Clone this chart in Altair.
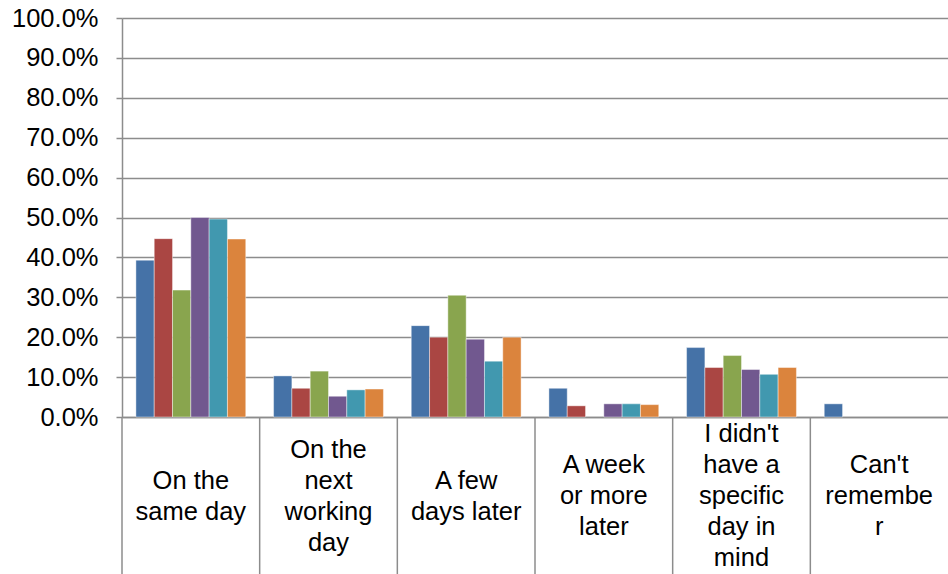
import altair as alt
import pandas as pd

# Response categories (x axis) and how each label wraps onto lines
categories = [
    "On the same day",
    "On the next working day",
    "A few days later",
    "A week or more later",
    "I didn't have a specific day in mind",
    "Can't remember",
]
wrapped = [
    ["On the", "same day"],
    ["On the", "next", "working", "day"],
    ["A few", "days later"],
    ["A week", "or more", "later"],
    ["I didn't", "have a", "specific", "day in", "mind"],
    ["Can't", "remembe", "r"],
]

# Six groups, one value (percent) per category
series = ["Group 1", "Group 2", "Group 3", "Group 4", "Group 5", "Group 6"]
group1 = [39.3, 10.3, 22.9, 7.2, 17.4, 3.3]
group2 = [44.7, 7.2, 20.0, 2.8, 12.4, 0.0]
group3 = [31.8, 11.5, 30.5, 0.0, 15.4, 0.0]
group4 = [50.0, 5.2, 19.5, 3.3, 11.9, 0.0]
group5 = [49.6, 6.8, 14.0, 3.3, 10.7, 0.0]
group6 = [44.6, 7.0, 20.0, 3.1, 12.4, 0.0]

colors = ["#4572A7", "#AA4643", "#89A54E", "#71588F", "#4198AF", "#DB843D"]
ticks = [i / 10 for i in range(11)]

rows = []
for name, vals in zip(series, [group1, group2, group3, group4, group5, group6]):
    for cat, v in zip(categories, vals):
        rows.append({"category": cat, "series": name, "value": v / 100})
df = pd.DataFrame(rows)

# One row per label line; "slot" is the line's place relative to the
# middle of its label block, so every block is centred in its cell.
label_rows = []
for cat, lines in zip(categories, wrapped):
    n = len(lines)
    for i, line in enumerate(lines):
        label_rows.append({"category": cat, "text": line, "slot": i - (n - 1) / 2})
labels_df = pd.DataFrame(label_rows)

FONT = "Liberation Sans"
FONT_SIZE = 25.5
GRAY = "#8c8c8c"
W, H, LABEL_BOX = 826, 399, 157
LINE = 31
MAX_HALF = (max(len(w) for w in wrapped) - 1) / 2
CELL_MID = H + 79

x_enc = alt.X(
    "category:N",
    sort=categories,
    scale=alt.Scale(paddingInner=0, paddingOuter=0),
    axis=alt.Axis(
        title=None,
        labels=False,
        ticks=False,
        grid=False,
        domainColor=GRAY,
        domainWidth=1.5,
    ),
)

bars = (
    alt.Chart(df)
    .transform_filter("datum.value > 0")
    .mark_bar(stroke="white", strokeWidth=0.6, strokeOpacity=0.7)
    .encode(
        x=x_enc,
        xOffset=alt.XOffset(
            "series:N",
            sort=series,
            scale=alt.Scale(paddingInner=0, paddingOuter=0.76),
        ),
        y=alt.Y(
            "value:Q",
            scale=alt.Scale(domain=[0, 1], nice=False),
            axis=alt.Axis(
                title=None,
                format=".1%",
                values=ticks,
                grid=True,
                gridColor=GRAY,
                gridWidth=1.5,
                domainColor=GRAY,
                domainWidth=1.5,
                tickColor=GRAY,
                tickWidth=1.5,
                tickSize=6,
                labelPadding=18,
                labelFont=FONT,
                labelFontSize=FONT_SIZE,
                labelColor="black",
            ),
        ),
        color=alt.Color(
            "series:N",
            sort=series,
            scale=alt.Scale(domain=series, range=colors),
            legend=None,
        ),
    )
)

# Vertical separators between the category label cells
separators = (
    alt.Chart(pd.DataFrame({"category": categories}))
    .mark_rule(color=GRAY, strokeWidth=1.5)
    .encode(
        x=alt.X("category:N", sort=categories, bandPosition=0),
        y=alt.value(H),
        y2=alt.value(H + LABEL_BOX),
    )
)

# Category labels, one text mark per line, centred in each cell
cat_labels = (
    alt.Chart(labels_df)
    .mark_text(font=FONT, fontSize=FONT_SIZE, color="black",
               align="center", baseline="middle")
    .encode(
        x=alt.X("category:N", sort=categories, bandPosition=0.5),
        y=alt.Y(
            "slot:Q",
            scale=alt.Scale(
                domain=[-MAX_HALF, MAX_HALF],
                range=[CELL_MID - MAX_HALF * LINE, CELL_MID + MAX_HALF * LINE],
                nice=False,
                zero=False,
            ),
            axis=None,
        ),
        text="text:N",
    )
)

chart = (
    alt.layer(bars, separators, cat_labels)
    .resolve_scale(y="independent")
    .properties(
        width=W,
        height=H,
        autosize=alt.AutoSizeParams(type="none"),
        padding={"left": 122, "top": 18, "right": 0, "bottom": LABEL_BOX},
        background="white",
    )
    .configure_view(stroke=None)
)

chart.save("out.html", embed_options={"renderer": "svg", "actions": False})
